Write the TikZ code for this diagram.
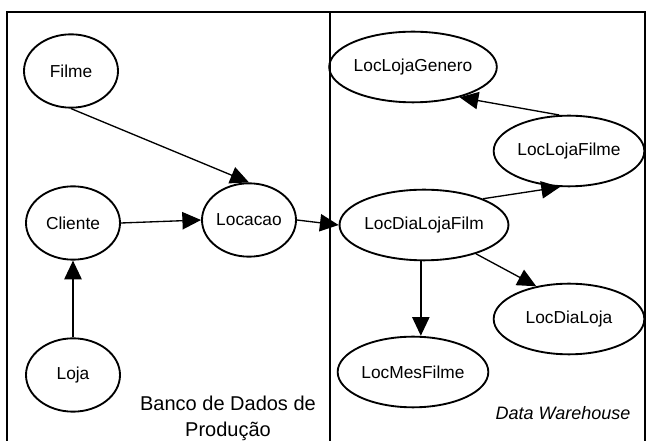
\documentclass[tikz,border=0pt]{standalone}
\usepackage{fontspec}
\setmainfont{Liberation Sans}
\usetikzlibrary{shapes.geometric,arrows.meta}
\tikzset{
  ent/.style={draw, ellipse, line width=1.4pt, inner sep=0pt, minimum width=70.5pt, minimum height=55pt, font=\fontsize{13}{15}\selectfont},
  fact/.style={ent, minimum width=113pt, minimum height=53pt},
  conn/.style={line width=1pt, -{Triangle[length=14pt,width=13pt]}},
}
\begin{document}
\begin{tikzpicture}[x=0.75pt,y=-0.75pt]
\useasboundingbox (0,0) rectangle (647,441);
\clip (0,0) rectangle (647,441);
\fill[white] (0,0) rectangle (647,441);
\draw[line width=1.3pt] (7,12) rectangle (645,470);
\draw[line width=1.3pt] (330,12) -- (330,470);

\node[ent] (filme) at (71,71) {Filme};
\node[ent] (cliente) at (73,223) {Cliente};
\node[ent] (locacao) at (249,220) {Locacao};
\node[ent] (loja) at (73,375) {Loja};

\node[fact] (llg) at (413,67) {LocLojaGenero};
\node[fact] (llf) at (569,151) {LocLojaFilme};
\node[fact] (ldlf) at (424,225) {LocDiaLojaFilm};
\node[fact] (ldl) at (569,319) {LocDiaLoja};
\node[fact] (lmf) at (413,372) {LocMesFilme};

\node[align=center, font=\fontsize{15}{20}\selectfont, anchor=north] (banco) at (228,391) {Banco de Dados de\\Produção};
\node[font=\fontsize{13.5}{15}\selectfont\itshape] (dw) at (563,413) {Data Warehouse};

\draw[conn] (filme.south) -- (locacao.north);
\draw[conn] (cliente.east) -- (locacao.west);
\draw[conn] (loja.north) -- (cliente.south);
\draw[conn] (locacao.east) -- (ldlf.west);
\draw[conn] (llf.105) -- (llg.-33);
\draw[conn] (ldlf.24) -- (llf.-104);
\draw[conn] (ldlf.-95) -- (ldlf.-95 |- lmf.north);
\draw[conn] (ldlf.-29) -- (ldl.135);
\end{tikzpicture}
\end{document}
